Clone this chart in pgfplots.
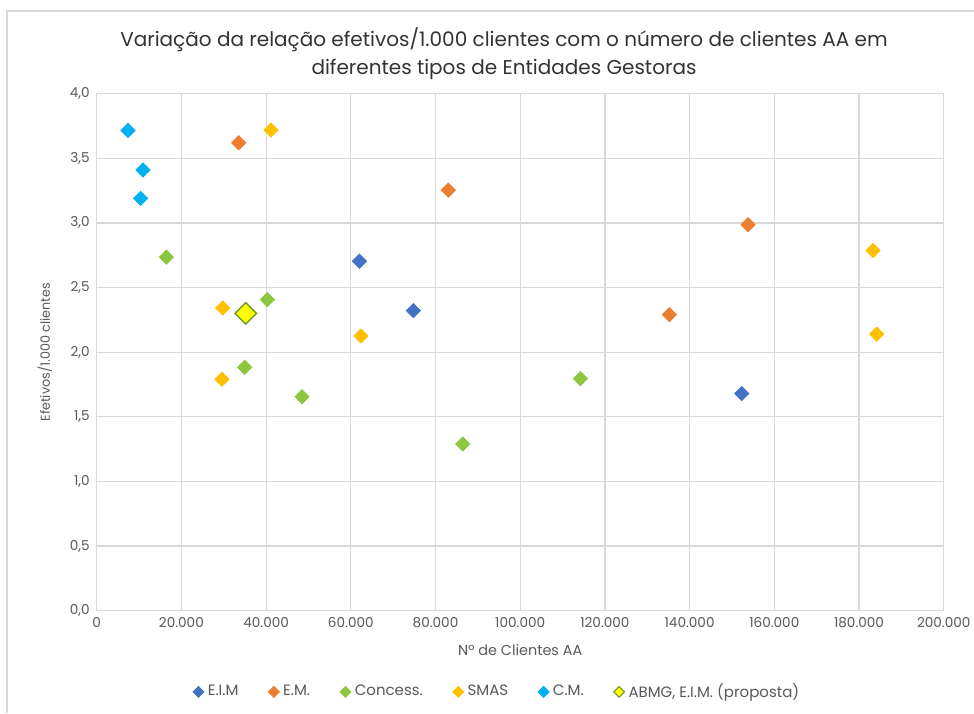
\documentclass[border=0pt]{standalone}
\usepackage{pgfplots}
\pgfplotsset{compat=1.18}
\usepackage{fontspec}
\setmainfont{Poppins}
\definecolor{cEIM}{HTML}{4472C4}
\definecolor{cEM}{HTML}{ED7D31}
\definecolor{cCon}{HTML}{8DC63F}
\definecolor{cSMAS}{HTML}{FFC000}
\definecolor{cCM}{HTML}{00B0F0}
\definecolor{cABy}{HTML}{FFFF00}
\definecolor{cABg}{HTML}{6E9A2A}
\definecolor{gridc}{HTML}{D9D9D9}
\definecolor{txt}{HTML}{595959}
\begin{document}
\begin{tikzpicture}
\useasboundingbox (0,0) rectangle (487pt,356.5pt);
\fill[white] (0,0) rectangle (487pt,356.5pt);
\draw[gridc, line width=0.6pt] (3.5pt,0) -- (3.5pt,351pt) -- (487pt,351pt);
\node[align=center, text=black!80, font=\fontsize{10}{14}\selectfont] at (252pt,329.5pt)
  {Variação da relação efetivos/1.000 clientes com o número de clientes AA em\\diferentes tipos de Entidades Gestoras};
\begin{axis}[
  at={(48.35pt,51.15pt)}, anchor=south west,
  scale only axis, width=423.5pt, height=258.5pt,
  xmin=0, xmax=200000, ymin=0, ymax=4,
  scaled ticks=false,
  xtick={0,20000,40000,60000,80000,100000,120000,140000,160000,180000,200000},
  xticklabels={0,20.000,40.000,60.000,80.000,100.000,120.000,140.000,160.000,180.000,200.000},
  ytick={0,0.5,1,1.5,2,2.5,3,3.5,4},
  yticklabels={{0,0},{0,5},{1,0},{1,5},{2,0},{2,5},{3,0},{3,5},{4,0}},
  tick label style={text=txt, font=\fontsize{6.8}{8}\selectfont},
  major tick length=0pt,
  grid=major, major grid style={gridc, line width=0.6pt},
  axis line style={gridc, line width=0.6pt},
  xlabel={Nº de Clientes AA}, ylabel={Efetivos/1.000 clientes},
  label style={text=txt},
  xlabel style={font=\fontsize{7.2}{8}\selectfont, at={(axis description cs:0.5,-0.076)}, anchor=center},
  ylabel style={font=\fontsize{6.4}{8}\selectfont, at={(axis description cs:-0.061,0.5)}, anchor=center},
  legend columns=6,
  legend style={at={(axis description cs:0.474,-0.157)}, anchor=center, draw=none, fill=none,
    font=\fontsize{7.5}{8}\selectfont, text=txt,
    /tikz/every even column/.append style={column sep=13pt}},
  legend cell align=left,
  legend image code/.code={\draw[#1, mark size=1.9pt, line width=0.5pt] plot coordinates {(0.15cm,0cm)};},
  every axis plot/.append style={only marks, mark=square*, mark options={rotate=45}},
  mark size=2.5pt,
]
\addplot[color=cEIM] coordinates {(62031,2.704) (74782,2.322) (152302,1.68)};
\addlegendentry{E.I.M}
\addplot[color=cEM] coordinates {(33530,3.62) (83046,3.254) (153790,2.987) (135230,2.291)};
\addlegendentry{E.M.}
\addplot[color=cCon] coordinates {(16458,2.735) (40307,2.407) (34947,1.883) (48477,1.656) (114215,1.795) (86423,1.29)};
\addlegendentry{Concess.}
\addplot[color=cSMAS] coordinates {(41157,3.72) (29752,2.342) (29587,1.79) (62408,2.126) (183306,2.787) (184180,2.14)};
\addlegendentry{SMAS}
\addplot[color=cCM] coordinates {(7391,3.715) (10933,3.41) (10390,3.19)};
\addlegendentry{C.M.}
\addplot[draw=cABg, fill=cABy, line width=0.7pt, mark size=3.8pt] coordinates {(35183,2.30)};
\addlegendentry{ABMG, E.I.M. (proposta)}
\end{axis}
\end{tikzpicture}
\end{document}
